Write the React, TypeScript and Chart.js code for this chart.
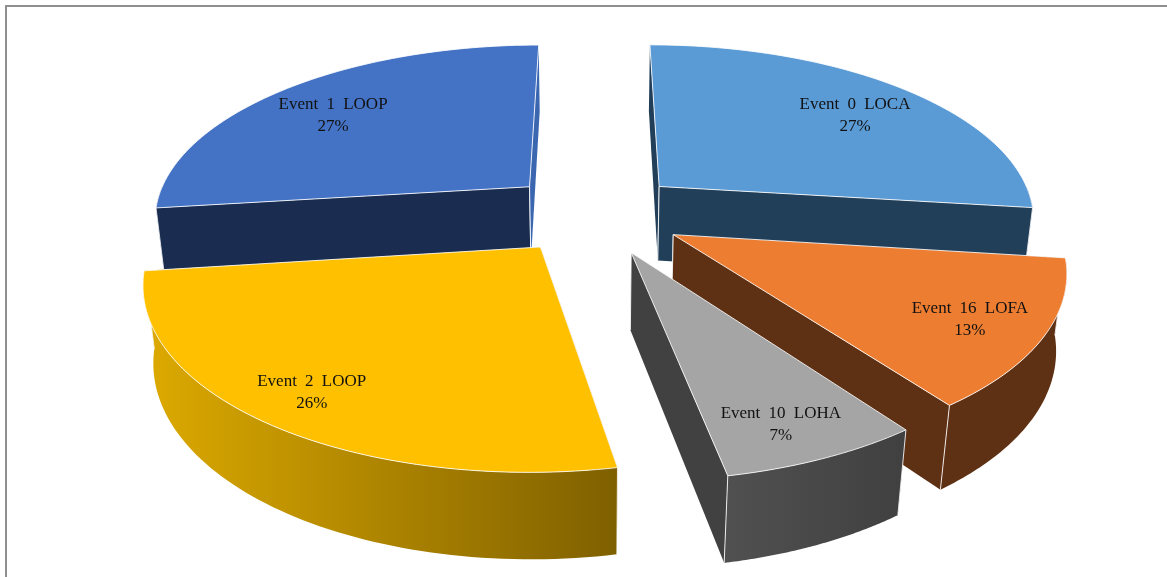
import React, { useEffect, useRef } from "react";
import { Chart, registerables } from "chart.js";

Chart.register(...registerables);

// Data
const categories = ["Event 0 LOCA", "Event 16 LOFA", "Event 10 LOHA", "Event 2 LOOP", "Event 1 LOOP"];
const shares = [27, 13, 7, 26, 27];

// Styles
const topColors = ["#5B9BD5", "#ED7D31", "#A5A5A5", "#FFC000", "#4472C4"];
const startWallColors = ["#223F59", "#5F3114", "#414141", "#7F6000", "#1A2D50"];
const endWallColors = ["#223F59", "#5F3114", "#414141", "#7F6000", "#3B66B0"];
const outerLeftColors = ["#223F59", "#5F3114", "#505050", "#DDAA00", "#1A2D50"];
const outerRightColors = ["#223F59", "#5F3114", "#404040", "#7F6000", "#1A2D50"];
const sliceOffsets = [45, 45.5, 45.5, 44.5, 44.5];
const labelRadii = [0.75, 0.82, 0.85, 0.85, 0.75];
const labelTurns = [0.053, 0.02, 0.028, 0, -0.056];
const paintOrder = [4, 0, 1, 2, 3];

// 3D view of the pie plane
const VIEW_X = 377;
const VIEW_Y = 174;
const PERSPECTIVE = 0.17;
const DEPTH = 77;
const DEPTH_SHRINK = 0.022;
const ARC_STEPS = 72;
const HAIRLINE = "rgba(255,255,255,0.85)";

type Pt = { x: number; y: number };

const pie3d = {
  id: "pie3d",
  beforeDatasetDraw() {
    return false; // the arcs are painted below, in perspective
  },
  afterDatasetsDraw(chart: any) {
    const { ctx } = chart;
    const arcs = chart.getDatasetMeta(0).data;
    const project = (el: any, u: number, v: number, z: number): Pt => {
      const w = 1 - PERSPECTIVE * v + DEPTH_SHRINK * z;
      return { x: el.x + (VIEW_X * u) / w, y: el.y + (VIEW_Y * v + DEPTH * z) / w };
    };
    ctx.save();
    ctx.lineJoin = "round";
    ctx.lineWidth = 1;
    ctx.strokeStyle = HAIRLINE;
    const trace = (pts: Pt[]) => {
      ctx.beginPath();
      pts.forEach((p, k) => (k ? ctx.lineTo(p.x, p.y) : ctx.moveTo(p.x, p.y)));
    };
    const fill = (pts: Pt[], style: any) => {
      trace(pts);
      ctx.closePath();
      ctx.fillStyle = style;
      ctx.fill();
    };
    const line = (pts: Pt[]) => {
      trace(pts);
      ctx.stroke();
    };
    for (const i of paintOrder) {
      const el = arcs[i];
      const d = el.options.offset / el.outerRadius;
      const mid = (el.startAngle + el.endAngle) / 2;
      const ox = Math.cos(mid) * d;
      const oy = Math.sin(mid) * d;
      const at = (a: number, r: number, z: number) =>
        project(el, ox + r * Math.cos(a), oy + r * Math.sin(a), z);
      const rim = (from: number, to: number, z: number) => {
        const pts: Pt[] = [];
        for (let k = 0; k <= ARC_STEPS; k++) pts.push(at(from + ((to - from) * k) / ARC_STEPS, 1, z));
        return pts;
      };
      const radialWall = (a: number, color: string) => {
        fill([at(a, 0, 0), at(a, 1, 0), at(a, 1, 1), at(a, 0, 1)], color);
        line([at(a, 0, 0), at(a, 0, 1)]);
      };
      radialWall(el.startAngle, startWallColors[i]);
      radialWall(el.endAngle, endWallColors[i]);

      // only the part of the rim that faces the viewer has a visible wall
      const from = Math.max(el.startAngle, 0);
      const to = Math.min(el.endAngle, Math.PI);
      if (to > from) {
        const top = rim(from, to, 0);
        const low = rim(from, to, 1);
        const xs = top.map((p) => p.x);
        const grad = ctx.createLinearGradient(Math.min(...xs), 0, Math.max(...xs), 0);
        grad.addColorStop(0, outerLeftColors[i]);
        grad.addColorStop(1, outerRightColors[i]);
        fill([...top, ...low.slice().reverse()], grad);
        if (from === el.startAngle) line([top[0], low[0]]);
        if (to === el.endAngle) line([top[top.length - 1], low[low.length - 1]]);
      }
      const face = [at(0, 0, 0), ...rim(el.startAngle, el.endAngle, 0)];
      fill(face, topColors[i]);
      trace(face);
      ctx.closePath();
      ctx.stroke();
    }
    ctx.fillStyle = "#111111";
    ctx.font = '17px "Liberation Serif"';
    ctx.textAlign = "center";
    ctx.textBaseline = "middle";
    (ctx as any).wordSpacing = "4px";
    arcs.forEach((el: any, i: number) => {
      const d = el.options.offset / el.outerRadius;
      const mid = (el.startAngle + el.endAngle) / 2;
      const turned = mid + labelTurns[i];
      const u = d * Math.cos(mid) + labelRadii[i] * Math.cos(turned);
      const v = d * Math.sin(mid) + labelRadii[i] * Math.sin(turned);
      const p = project(el, u, v, 0);
      ctx.fillText(categories[i], p.x, p.y - 11);
      ctx.fillText(`${shares[i]}%`, p.x, p.y + 11);
    });
    ctx.restore();
  },
};

export default function App() {
  const ref = useRef<HTMLCanvasElement>(null);
  useEffect(() => {
    const chart = new Chart(ref.current!, {
      type: "pie",
      data: {
        labels: categories,
        datasets: [{ data: shares, backgroundColor: topColors, borderWidth: 0, offset: sliceOffsets }],
      },
      options: {
        animation: false,
        responsive: false,
        devicePixelRatio: 1,
        events: [],
        layout: { padding: { left: 21, top: 0, right: 0, bottom: 151 } },
        plugins: { legend: { display: false }, tooltip: { enabled: false } },
      },
      plugins: [pie3d],
    } as any);
    return () => chart.destroy();
  }, []);
  return (
    <div style={{ position: "fixed", inset: 0, overflow: "hidden", background: "#fff" }}>
      <div
        style={{
          position: "absolute",
          left: 5,
          top: 5,
          width: 1200,
          height: 600,
          borderLeft: "2px solid #8f8f8f",
          borderTop: "2px solid #8f8f8f",
        }}
      />
      <canvas ref={ref} width={1167} height={577} style={{ position: "absolute", left: 0, top: 0 }} />
    </div>
  );
}
